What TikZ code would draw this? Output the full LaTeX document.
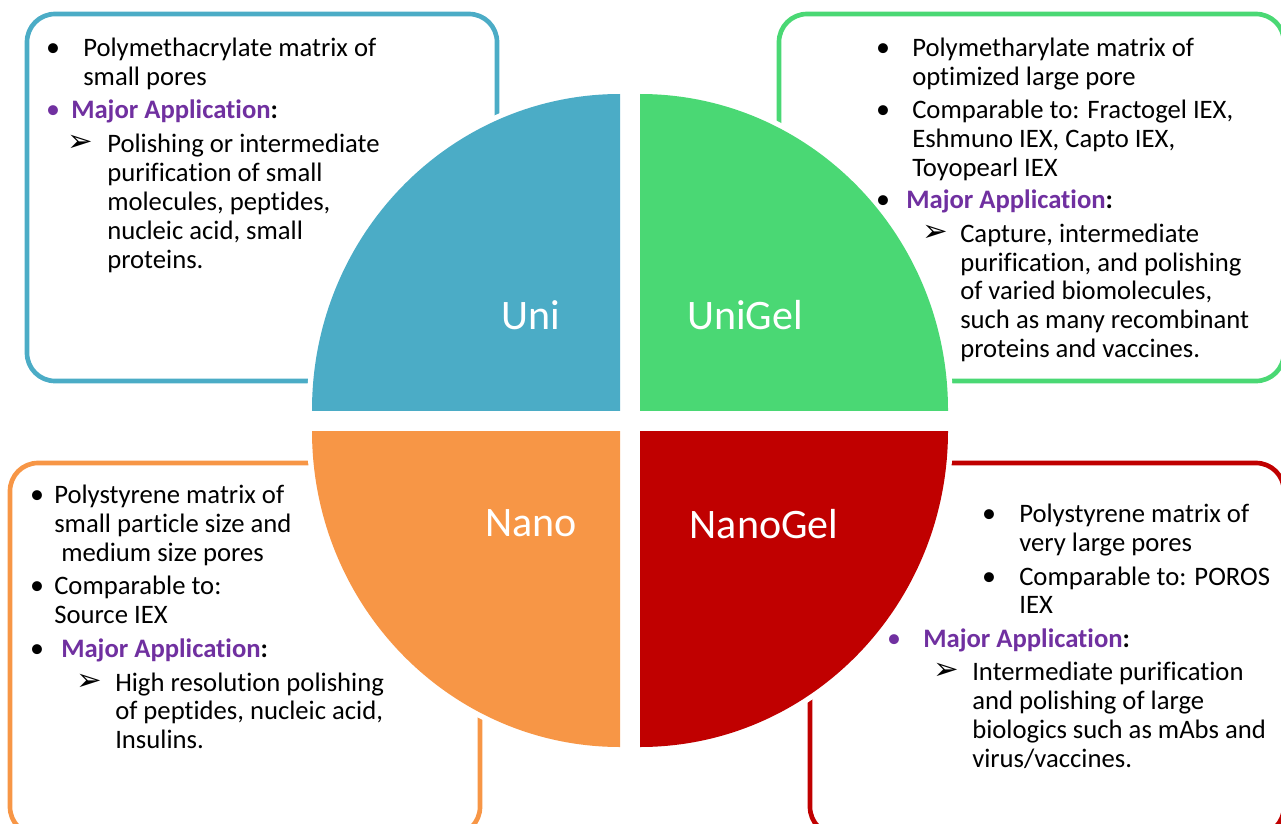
\documentclass[tikz,border=0pt]{standalone}
\usepackage{fontspec}
\setmainfont{Carlito}[Ligatures=NoCommon]
\newfontfamily\djv{DejaVu Sans}
\definecolor{cuni}{RGB}{75,172,198}
\definecolor{cunigel}{RGB}{74,216,116}
\definecolor{cnano}{RGB}{247,150,70}
\definecolor{cnanogel}{RGB}{192,0,0}
\definecolor{cpurple}{RGB}{112,48,160}
\newcommand\tline[4]{\node[txt] (#1) at (#2,#3) {#4};}
\newcommand\tbul[4][black]{\node[bul,text=#1] (#2) at (#3,#4) {•};}
\newcommand\tarr[3]{\node[arr] (#1) at (#2,#3) {➢};}
\newcommand\majapp{{\bfseries\color{cpurple}Major Application}\textbf{:}}
\begin{document}
\begin{tikzpicture}[x=0.75pt,y=-0.75pt,
  box/.style={line width=3.5pt, rounded corners=21pt},
  txt/.style={anchor=base west, inner sep=0pt, font=\fontsize{20}{24}\selectfont},
  bul/.style={anchor=base, inner sep=0pt, font=\fontsize{21}{24}\selectfont},
  arr/.style={anchor=base, inner sep=0pt, font=\djv\fontsize{23}{26}\selectfont},
  lab/.style={anchor=base, inner sep=0pt, text=white, font=\fontsize{31.5}{36}\selectfont}]
\useasboundingbox (0,0) rectangle (1281,824);
% boxes
\draw[box, cuni] (27,14) rectangle (497,381);
\draw[box, cunigel] (779,14) rectangle (1284,381);
\draw[box, cnano] (10,463) rectangle (480,835);
\draw[box, cnanogel] (810,463) rectangle (1284,835);
% quadrants
\begin{scope}
\clip (0,0) rectangle (620,410);
\fill[white] (620,410) ellipse [x radius=235pt, y radius=241pt];
\fill[cuni] (620,410) ellipse [x radius=231pt, y radius=237pt];
\end{scope}
\begin{scope}
\clip (640,0) rectangle (1281,410);
\fill[white] (640,410) ellipse [x radius=235pt, y radius=241pt];
\fill[cunigel] (640,410) ellipse [x radius=231pt, y radius=237pt];
\end{scope}
\begin{scope}
\clip (0,431) rectangle (620,824);
\fill[white] (620,431) ellipse [x radius=235pt, y radius=241pt];
\fill[cnano] (620,431) ellipse [x radius=231pt, y radius=237pt];
\end{scope}
\begin{scope}
\clip (640,431) rectangle (1281,824);
\fill[white] (640,431) ellipse [x radius=235pt, y radius=241pt];
\fill[cnanogel] (640,431) ellipse [x radius=231pt, y radius=237pt];
\end{scope}
% labels
\node[lab] (uni) at (531,329) {Uni};
\node[lab] (unigel) at (745,329) {UniGel};
\node[lab] (nano) at (531,536) {Nano};
\node[lab] (nanogel) at (764,538) {NanoGel};
% top-left
\tbul{tlb1}{53}{57}
\tline{tl1}{83}{57}{Polymethacrylate matrix of}
\tline{tl2}{83}{85}{small pores}
\tbul[cpurple]{tlb2}{53}{118}
\tline{tl3}{71}{118}{\majapp}
\tarr{tla}{80}{151}
\tline{tl4}{107}{152}{Polishing or intermediate}
\tline{tl5}{107}{181}{purification of small}
\tline{tl6}{107}{210}{molecules, peptides,}
\tline{tl7}{107}{239}{nucleic acid, small}
\tline{tl8}{107}{268}{proteins.}
% top-right
\tbul{trb1}{883}{57}
\tline{tr1}{912}{57}{Polymetharylate matrix of}
\tline{tr2}{912}{85}{optimized large pore}
\tbul{trb2}{883}{118}
\tline{tr3}{912}{118}{Comparable to: Fractogel IEX,}
\tline{tr4}{912}{147}{Eshmuno IEX, Capto IEX,}
\tline{tr5}{912}{176}{Toyopearl IEX}
\tbul{trb3}{883}{208}
\tline{tr6}{906}{208}{\majapp}
\tarr{tra}{935}{241}
\tline{tr7}{960}{242}{Capture, intermediate}
\tline{tr8}{960}{271}{purification, and polishing}
\tline{tr9}{960}{299}{of varied biomolecules,}
\tline{tr10}{960}{328}{such as many recombinant}
\tline{tr11}{960}{357}{proteins and vaccines.}
% bottom-left
\tbul{blb1}{37}{503}
\tline{bl1}{54}{503}{Polystyrene matrix of}
\tline{bl2}{54}{532}{small particle size and}
\tline{bl3}{61}{561}{medium size pores}
\tbul{blb2}{37}{594}
\tline{bl4}{54}{594}{Comparable to:}
\tline{bl5}{54}{623}{Source IEX}
\tbul{blb3}{37}{657}
\tline{bl6}{61}{657}{\majapp}
\tarr{bla}{89}{690}
\tline{bl7}{115}{691}{High resolution polishing}
\tline{bl8}{115}{719}{of peptides, nucleic acid,}
\tline{bl9}{115}{748}{Insulins.}
% bottom-right
\tbul{brb1}{989}{522}
\tline{br1}{1019}{522}{Polystyrene matrix of}
\tline{br2}{1019}{551}{very large pores}
\tbul{brb2}{989}{585}
\tline{br3}{1019}{585}{Comparable to: POROS}
\tline{br4}{1019}{613}{IEX}
\tbul[cpurple]{brb3}{894}{647}
\tline{br5}{923}{647}{\majapp}
\tarr{bra}{946}{679}
\tline{br6}{972}{680}{Intermediate purification}
\tline{br7}{972}{709}{and polishing of large}
\tline{br8}{972}{738}{biologics such as mAbs and}
\tline{br9}{972}{767}{virus/vaccines.}
\end{tikzpicture}
\end{document}
